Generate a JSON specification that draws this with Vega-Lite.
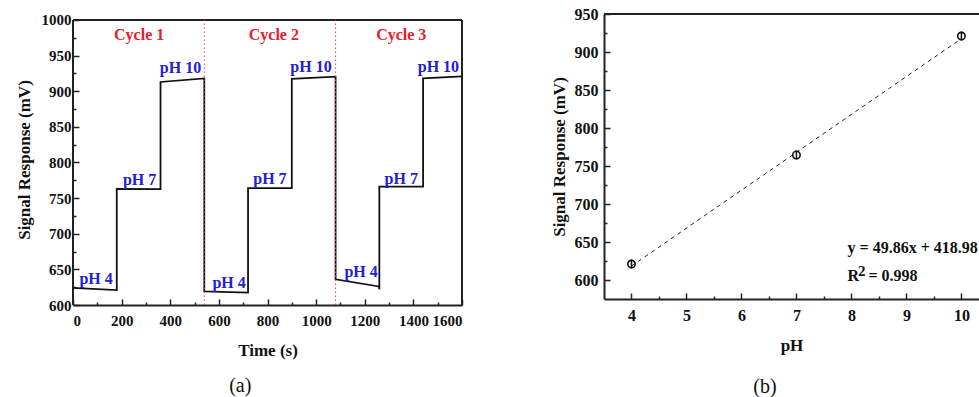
{
  "$schema": "https://vega.github.io/schema/vega-lite/v6.json",
  "background": "white",
  "padding": {"left": 15, "top": 6, "right": 0, "bottom": 0},
  "spacing": 84,
  "config": {
    "font": "Liberation Serif",
    "view": {"stroke": null},
    "axis": {"grid": false, "domainColor": "#222", "domainWidth": 2, "tickColor": "#222", "tickWidth": 1.5, "labelFont": "Liberation Serif", "labelFontWeight": "bold", "labelColor": "#111", "labelOverlap": false, "format": "d", "titleFont": "Liberation Serif", "titleFontWeight": "bold", "titleColor": "#111", "titleFontSize": 17},
    "title": {"font": "Liberation Serif", "fontWeight": "normal", "fontSize": 20, "color": "#111"}
  },
  "datasets": {
    "frameA": [
      {"x": 0, "x2": 0, "y": 600, "y2": 1000},
      {"x": 1600, "x2": 1600, "y": 600, "y2": 1000},
      {"x": 0, "x2": 1600, "y": 1000, "y2": 1000}
    ],
    "signal": [
      {"i": 1, "t": 0, "v": 624},
      {"i": 2, "t": 180, "v": 621},
      {"i": 3, "t": 180, "v": 763},
      {"i": 4, "t": 360, "v": 762.5},
      {"i": 5, "t": 360, "v": 913},
      {"i": 6, "t": 540, "v": 918},
      {"i": 7, "t": 540, "v": 619},
      {"i": 8, "t": 720, "v": 617.5},
      {"i": 9, "t": 720, "v": 764},
      {"i": 10, "t": 900, "v": 764},
      {"i": 11, "t": 900, "v": 917.5},
      {"i": 12, "t": 1080, "v": 920.5},
      {"i": 13, "t": 1080, "v": 636},
      {"i": 14, "t": 1258, "v": 626},
      {"i": 15, "t": 1260, "v": 622},
      {"i": 16, "t": 1260, "v": 766},
      {"i": 17, "t": 1440, "v": 766},
      {"i": 18, "t": 1440, "v": 918},
      {"i": 19, "t": 1600, "v": 921}
    ],
    "dividers": [
      {"t": 540, "lo": 600, "hi": 1000},
      {"t": 1080, "lo": 600, "hi": 1000}
    ],
    "cycles": [
      {"t": 272, "v": 979, "label": "Cycle 1"},
      {"t": 826, "v": 979, "label": "Cycle 2"},
      {"t": 1350, "v": 979, "label": "Cycle 3"}
    ],
    "phLabels": [
      {"t": 95, "v": 637, "label": "pH 4"},
      {"t": 274, "v": 776, "label": "pH 7"},
      {"t": 442, "v": 933, "label": "pH 10"},
      {"t": 642, "v": 631, "label": "pH 4"},
      {"t": 810, "v": 777, "label": "pH 7"},
      {"t": 979, "v": 934, "label": "pH 10"},
      {"t": 1185, "v": 646, "label": "pH 4"},
      {"t": 1350, "v": 777, "label": "pH 7"},
      {"t": 1503, "v": 934, "label": "pH 10"}
    ],
    "frameB": [
      {"x": 3.5, "x2": 10.32, "y": 950, "y2": 950}
    ],
    "fit": [
      {"ph": 4, "v": 618.4},
      {"ph": 10, "v": 917.6}
    ],
    "points": [
      {"ph": 4, "v": 621, "lo": 615, "hi": 627},
      {"ph": 7, "v": 764.5, "lo": 758.5, "hi": 770.5},
      {"ph": 10, "v": 921, "lo": 915, "hi": 927}
    ],
    "eqText": [
      {"ph": 7.93, "v": 642, "label": "y = 49.86x + 418.98"},
      {"ph": 7.93, "v": 605, "label": "R"},
      {"ph": 8.31, "v": 605, "label": "= 0.998"}
    ],
    "supText": [
      {"ph": 8.12, "v": 612, "label": "2"}
    ]
  },
  "hconcat": [
    {
      "width": 389,
      "height": 291,
      "title": {"text": "(a)", "orient": "bottom", "frame": "bounds", "anchor": "middle", "offset": 18},
      "layer": [
        {
          "data": {"name": "frameA"},
          "mark": {"type": "rule", "color": "#222", "strokeWidth": 2},
          "encoding": {
            "x": {"field": "x", "type": "quantitative", "scale": {"domain": [0, 1600], "nice": false}, "axis": {"orient": "bottom", "values": [100, 300, 500, 700, 900, 1100, 1300, 1500], "tickSize": -3, "labels": false, "domain": false, "title": null}},
            "x2": {"field": "x2"},
            "y": {"field": "y", "type": "quantitative", "scale": {"domain": [600, 1008.4], "nice": false, "zero": false}, "axis": {"orient": "left", "values": [625, 675, 725, 775, 825, 875, 925, 975], "tickSize": -3, "labels": false, "domain": false, "title": null}},
            "y2": {"field": "y2"}
          }
        },
        {
          "data": {"name": "signal"},
          "mark": {"type": "line", "color": "#111", "strokeWidth": 1.8},
          "encoding": {
            "x": {"field": "t", "type": "quantitative", "scale": {"domain": [0, 1600], "nice": false}, "axis": {"orient": "bottom", "values": [0, 200, 400, 600, 800, 1000, 1200, 1400, 1600], "tickSize": -6, "labelPadding": 14, "labelFontSize": 15, "title": "Time (s)", "titlePadding": 14}},
            "y": {"field": "v", "type": "quantitative", "scale": {"domain": [600, 1008.4], "nice": false, "zero": false}, "axis": {"orient": "left", "values": [600, 650, 700, 750, 800, 850, 900, 950, 1000], "tickSize": -6, "labelPadding": 8, "labelFontSize": 15, "domain": false, "title": "Signal Response (mV)", "titlePadding": 8}},
            "order": {"field": "i"}
          }
        },
        {
          "data": {"name": "dividers"},
          "mark": {"type": "rule", "color": "#e8404a", "strokeDash": [1.5, 2.5], "strokeWidth": 1},
          "encoding": {
            "x": {"field": "t", "type": "quantitative", "axis": null},
            "y": {"field": "lo", "type": "quantitative", "axis": null},
            "y2": {"field": "hi"}
          }
        },
        {
          "data": {"name": "cycles"},
          "mark": {"type": "text", "color": "#e8202a", "font": "Liberation Serif", "fontWeight": "bold", "fontSize": 16, "align": "center", "baseline": "middle"},
          "encoding": {
            "x": {"field": "t", "type": "quantitative", "axis": null},
            "y": {"field": "v", "type": "quantitative", "axis": null},
            "text": {"field": "label"}
          }
        },
        {
          "data": {"name": "phLabels"},
          "mark": {"type": "text", "color": "#2020d8", "font": "Liberation Serif", "fontWeight": "bold", "fontSize": 16, "align": "center", "baseline": "middle"},
          "encoding": {
            "x": {"field": "t", "type": "quantitative", "axis": null},
            "y": {"field": "v", "type": "quantitative", "axis": null},
            "text": {"field": "label"}
          }
        }
      ],
      "resolve": {"axis": {"x": "independent", "y": "independent"}}
    },
    {
      "width": 375,
      "height": 285,
      "title": {"text": "(b)", "orient": "bottom", "frame": "bounds", "anchor": "middle", "offset": 24},
      "layer": [
        {
          "data": {"name": "frameB"},
          "mark": {"type": "rule", "color": "#222", "strokeWidth": 2},
          "encoding": {
            "x": {"field": "x", "type": "quantitative", "scale": {"domain": [3.5, 10.32], "nice": false, "zero": false}, "axis": {"orient": "bottom", "values": [4.5, 5.5, 6.5, 7.5, 8.5, 9.5], "tickSize": -3, "labels": false, "domain": false, "title": null}},
            "x2": {"field": "x2"},
            "y": {"field": "y", "type": "quantitative", "scale": {"domain": [575, 950], "nice": false, "zero": false}, "axis": {"orient": "left", "values": [625, 675, 725, 775, 825, 875, 925], "tickSize": -3, "labels": false, "domain": false, "title": null}},
            "y2": {"field": "y2"}
          }
        },
        {
          "data": {"name": "fit"},
          "mark": {"type": "line", "color": "#222", "strokeWidth": 1, "strokeDash": [4, 4]},
          "encoding": {
            "x": {"field": "ph", "type": "quantitative", "scale": {"domain": [3.5, 10.32], "nice": false, "zero": false}, "axis": {"orient": "bottom", "values": [4, 5, 6, 7, 8, 9, 10], "tickSize": -6, "labelPadding": 14, "labelFontSize": 16, "title": "pH", "titlePadding": 14}},
            "y": {"field": "v", "type": "quantitative", "scale": {"domain": [575, 950], "nice": false, "zero": false}, "axis": {"orient": "left", "values": [600, 650, 700, 750, 800, 850, 900, 950], "tickSize": -6, "labelPadding": 12, "labelFontSize": 16, "title": "Signal Response (mV)", "titlePadding": 6}}
          }
        },
        {
          "data": {"name": "points"},
          "mark": {"type": "rule", "color": "#111", "strokeWidth": 1.5},
          "encoding": {
            "x": {"field": "ph", "type": "quantitative", "axis": null},
            "y": {"field": "lo", "type": "quantitative", "axis": null},
            "y2": {"field": "hi"}
          }
        },
        {
          "data": {"name": "points"},
          "mark": {"type": "point", "shape": "circle", "filled": false, "color": "#111", "strokeWidth": 1.6, "size": 55, "opacity": 1},
          "encoding": {
            "x": {"field": "ph", "type": "quantitative", "axis": null},
            "y": {"field": "v", "type": "quantitative", "axis": null}
          }
        },
        {
          "data": {"name": "eqText"},
          "mark": {"type": "text", "color": "#111", "font": "Liberation Serif", "fontWeight": "bold", "fontSize": 16, "align": "left", "baseline": "middle"},
          "encoding": {
            "x": {"field": "ph", "type": "quantitative", "axis": null},
            "y": {"field": "v", "type": "quantitative", "axis": null},
            "text": {"field": "label"}
          }
        },
        {
          "data": {"name": "supText"},
          "mark": {"type": "text", "color": "#111", "font": "Liberation Serif", "fontWeight": "bold", "fontSize": 15, "align": "left", "baseline": "middle"},
          "encoding": {
            "x": {"field": "ph", "type": "quantitative", "axis": null},
            "y": {"field": "v", "type": "quantitative", "axis": null},
            "text": {"field": "label"}
          }
        }
      ],
      "resolve": {"axis": {"x": "independent", "y": "independent"}}
    }
  ]
}
